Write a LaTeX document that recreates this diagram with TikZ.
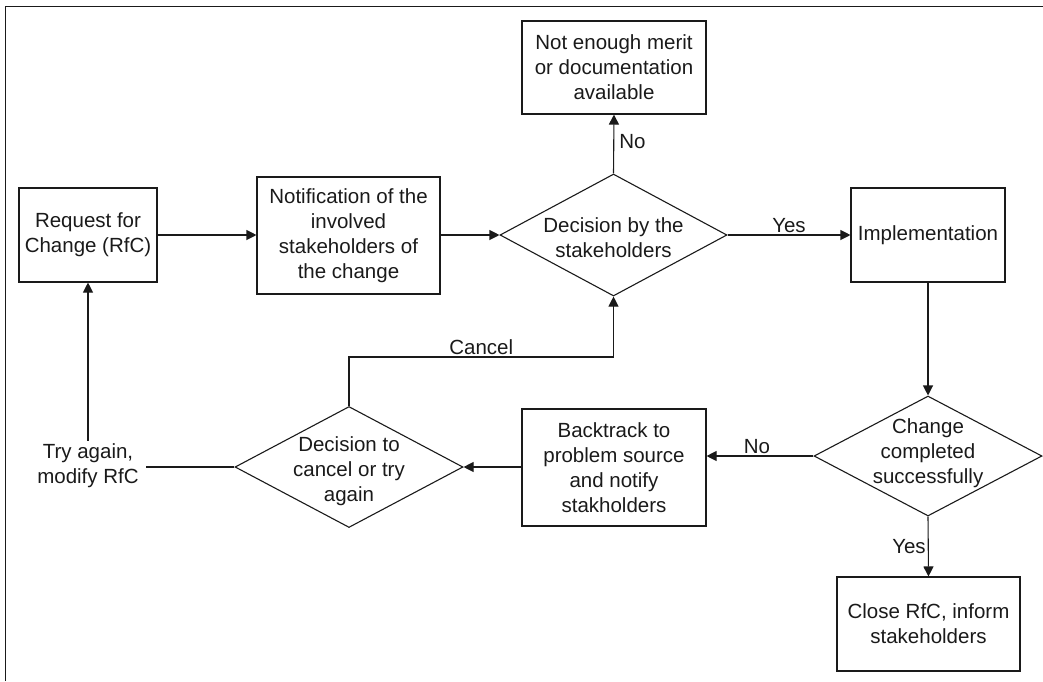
\documentclass[tikz,border=0pt]{standalone}
\usepackage{fontspec}
\setmainfont{Liberation Sans}
\usetikzlibrary{arrows.meta,shapes.geometric}
\definecolor{ink}{HTML}{1A1A1A}
\begin{document}
\begin{tikzpicture}[x=1pt,y=-1pt,
  every node/.style={font=\fontsize{20.5}{25}\selectfont, text=ink},
  line/.style={draw=ink, line width=1.1pt},
  arr/.style={line, -{Triangle[length=10pt,width=10pt]}},
  procbox/.style={line, rectangle, align=center, inner sep=2pt},
  choice/.style={line, diamond, inner sep=0pt},
  choicetext/.style={align=center},
  edgelabel/.style={inner sep=2pt}]
\useasboundingbox (0,0) rectangle (1043,681);
% outer frame (left and top edges)
\draw[line] (5.5,681) -- (5.5,6.5) -- (1043,6.5);

% process boxes
\node[procbox, minimum width=138pt, minimum height=94pt] (req) at (88,235) {Request for\\Change (RfC)};
\node[procbox, minimum width=183pt, minimum height=117pt] (notif) at (348.5,235.5) {Notification of the\\involved\\stakeholders of\\the change};
\node[procbox, minimum width=184pt, minimum height=93pt] (merit) at (614,67.5) {Not enough merit\\or documentation\\available};
\node[procbox, minimum width=154pt, minimum height=94pt] (impl) at (928,235) {Implementation};
\node[procbox, minimum width=184pt, minimum height=117pt] (back) at (614,467.5) {Backtrack to\\problem source\\and notify\\stakholders};
\node[procbox, minimum width=183pt, minimum height=94pt] (close) at (928.5,624) {Close RfC, inform\\stakeholders};

% decisions
\node[choice, minimum width=227pt, minimum height=122pt] (dec1) at (613.5,235) {};
\node[choicetext] (dec1t) at (613.5,238) {Decision by the\\stakeholders};
\node[choice, minimum width=228pt, minimum height=120pt] (dec3) at (928,456) {};
\node[choicetext] (dec3t) at (928,453) {Change\\completed\\successfully};
\node[choice, minimum width=228pt, minimum height=121pt] (dec2) at (349,467) {};
\node[choicetext] (dec2t) at (349,471) {Decision to\\cancel or try\\again};

% retry label
\node[align=center, inner xsep=7pt, inner ysep=3pt] (try) at (88,466) {Try again,\\modify RfC};

% connectors
\draw[arr] (req.east) -- (req.east -| notif.west);
\draw[arr] (dec1.west -| notif.east) -- (dec1.west);
\draw[arr] (dec1.north) -- node[right, edgelabel, xshift=3pt, yshift=2pt] (lno1) {No} (merit.south);
\draw[arr] (dec1.east) -- node[above, edgelabel] (lyes1) {Yes} (impl.west);
\draw[arr] (impl.south) -- (dec3.north);
\draw[arr] (dec3.west) -- node[above, edgelabel, xshift=-3pt] (lno2) {No} (dec3.west -| back.east);
\draw[arr] (dec3.south) -- node[left, edgelabel] (lyes2) {Yes} (close.north);
\draw[arr] (back.west |- dec2.east) -- (dec2.east);
\draw[arr] (dec2.north) -- ++(0,-49) coordinate (cturn)
  -- node[above, edgelabel] (lcancel) {Cancel} (cturn -| dec1.south) -- (dec1.south);
\draw[line] (dec2.west) -- (try.east |- dec2.west);
\draw[arr] (try.north) -- (req.south);
\end{tikzpicture}
\end{document}
